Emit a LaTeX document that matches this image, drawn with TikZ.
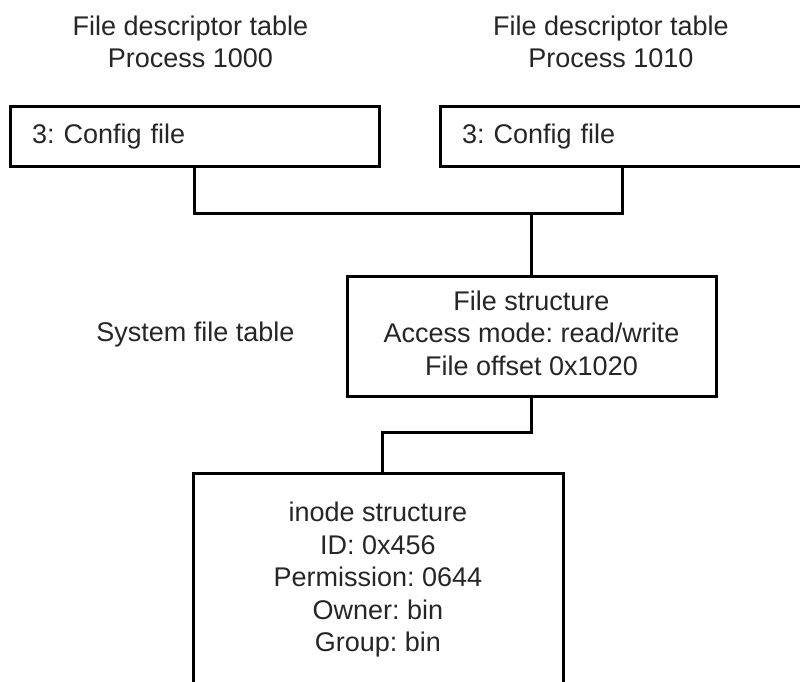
\documentclass[tikz,border=0pt]{standalone}
\usepackage{fontspec}
\setmainfont{Liberation Sans}
\usetikzlibrary{calc}
\definecolor{txt}{RGB}{38,38,38}
\frenchspacing
\begin{document}
\begin{tikzpicture}[x=1pt,y=-1pt,
  every node/.style={font=\fontsize{27}{32.5}\selectfont\frenchspacing, text=txt},
  box/.style={draw=black, line width=3pt, rectangle, inner sep=0pt, fill=white},
  wire/.style={draw=black, line width=3pt}
]
\useasboundingbox (0,0) rectangle (800,682);
\fill[white] (0,0) rectangle (800,682);
\clip (0,0) rectangle (800,682);

% headers
\node[align=center] (h1) at (190.5,42) {File descriptor table\\Process 1000};
\node[align=center] (h2) at (611,42) {File descriptor table\\Process 1010};

% descriptor boxes
\node[box, minimum width=369pt, minimum height=60pt, text width=325pt, align=left] (b1) at (194.5,136.5) {3: Config file};
\node[box, minimum width=390pt, minimum height=60pt, text width=346pt, align=left] (b2) at (635,136.5) {3: Config file};

% system file table
\node (sft) at (195.5,335) {System file table};
\node[box, minimum width=369pt, minimum height=120pt, align=center] (b3) at (531.5,336)
  {File structure\\Access mode: read/write\\File offset 0x1020\rule[-6pt]{0pt}{6pt}};

% inode
\node[box, minimum width=370pt, minimum height=214pt, align=center] (b4) at (378,580)
  {inode structure\\ID: 0x456\\Permission: 0644\\Owner: bin\\Group: bin};

% connectors
\coordinate (j1) at (531.5,213);
\coordinate (b2tap) at ($(b2.south west)+(184,0)$);
\draw[wire] (b1.south) |- (j1) -| (b2tap);
\draw[wire] (j1) -- (b3.north);
\coordinate (j2) at (382,432);
\draw[wire] (b3.south) |- (j2) -- (j2 |- b4.north);
\end{tikzpicture}
\end{document}
